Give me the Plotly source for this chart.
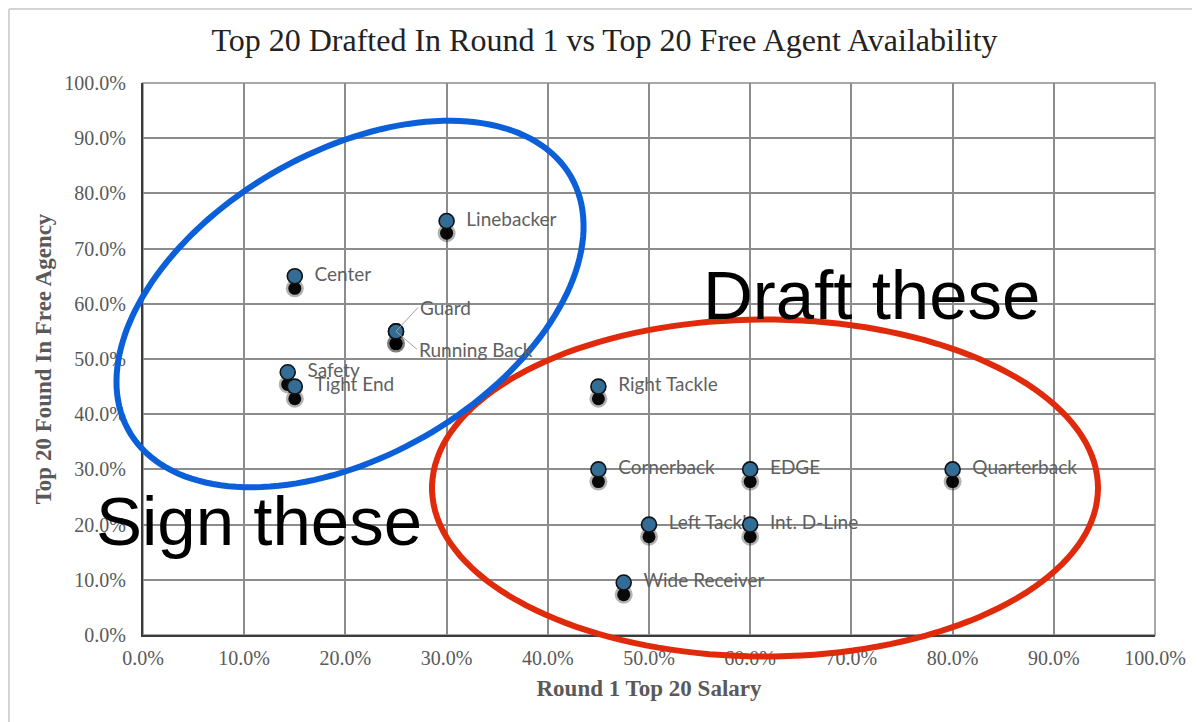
import numpy as np
import plotly.graph_objects as go

# --- Datos ---
positions = ["Linebacker", "Center", "Guard", "Running Back", "Safety", "Tight End",
             "Right Tackle", "Cornerback", "EDGE", "Quarterback", "Left Tackle",
             "Int. D-Line", "Wide Receiver"]
salary_share = [0.30, 0.15, 0.25, 0.25, 0.143, 0.15, 0.45, 0.45, 0.60, 0.80, 0.50, 0.60, 0.475]
fa_share = [0.75, 0.65, 0.55, 0.55, 0.476, 0.45, 0.45, 0.30, 0.30, 0.30, 0.20, 0.20, 0.095]
tick_vals = [0.0, 0.1, 0.2, 0.3, 0.4, 0.5, 0.6, 0.7, 0.8, 0.9, 1.0]

# --- Layout ---
# la pagina html deja 8px de margen en el body, asi que la figura se compensa
OFF = 8
PX0, PX1, PY0, PY1 = 143, 1155, 83, 635   # area de trazado en la imagen final
W, H = 1200 - OFF, 722 - OFF
L, T = PX0 - OFF, PY0 - OFF
R, B = W - (PX1 - OFF), H - (PY1 - OFF)


def px_to_data(px, py):
    # pixeles de la imagen final -> coordenadas 0-1 del area de trazado
    return (np.asarray(px) - PX0) / (PX1 - PX0), (PY1 - np.asarray(py)) / (PY1 - PY0)


def ellipse_path(cx, cy, a, b, ang_deg, n=160):
    t = np.linspace(0, 2 * np.pi, n)
    th = np.radians(ang_deg)
    px = cx + a * np.cos(t) * np.cos(th) - b * np.sin(t) * np.sin(th)
    py = cy + a * np.cos(t) * np.sin(th) + b * np.sin(t) * np.cos(th)
    xs, ys = px_to_data(px, py)
    return "M " + " L ".join(f"{x:.4f},{y:.4f}" for x, y in zip(xs, ys)) + " Z"


serif = "Liberation Serif"
label_font = dict(family="Lato", size=19, color="#5f5f5f")
leader = {"Guard": (22, -24), "Running Back": (21, 18)}

fig = go.Figure()

# sombra de los marcadores
shadow_y = [v - 0.022 for v in fa_share]
fig.add_trace(go.Scatter(
    x=salary_share, y=shadow_y, mode="markers", hoverinfo="skip",
    marker=dict(size=18, color="black", opacity=0.3, line=dict(width=0)),
    showlegend=False))
fig.add_trace(go.Scatter(
    x=salary_share, y=shadow_y, mode="markers", hoverinfo="skip",
    marker=dict(size=13, color="black", opacity=0.95, line=dict(width=0)),
    showlegend=False))

# etiquetas (debajo de los marcadores)
fig.add_trace(go.Scatter(
    x=salary_share, y=fa_share, mode="markers+text",
    text=["" if p in leader else p for p in positions],
    textposition="middle right", textfont=label_font,
    marker=dict(size=30, opacity=0), hoverinfo="skip", showlegend=False))

# marcadores
fig.add_trace(go.Scatter(
    x=salary_share, y=fa_share, mode="markers", text=positions,
    marker=dict(size=15, color="#336C95", line=dict(color="#111111", width=1.6)),
    showlegend=False))

# etiquetas con linea guia (Guard / Running Back)
for p, xv, yv in zip(positions, salary_share, fa_share):
    if p in leader:
        ax, ay = leader[p]
        fig.add_annotation(x=xv, y=yv, text=p, showarrow=True, arrowhead=0,
                           arrowwidth=1, arrowcolor="#a0a0a0", ax=ax, ay=ay,
                           xanchor="left", standoff=0, font=label_font)

# ovalos (en coordenadas paper para que no se recorten)
fig.add_shape(type="path", xref="paper", yref="paper",
              path=ellipse_path(765, 488, 333, 168.5, 0),
              line=dict(color="#E02A0C", width=6), layer="above")
fig.add_shape(type="path", xref="paper", yref="paper",
              path=ellipse_path(350, 304, 255, 152, -30),
              line=dict(color="#0B5FD9", width=6), layer="above")

# borde del area de trazado
fig.add_shape(type="rect", xref="paper", yref="paper", x0=0, y0=0, x1=1, y1=1,
              line=dict(color="#8c8c8c", width=1.5), layer="below")

# marco de la imagen (arriba e izquierda)
fx0, fy0 = px_to_data(OFF + 1, OFF + 1)
fx1, fy1 = px_to_data(1200, 722)
fig.add_shape(type="line", xref="paper", yref="paper", x0=fx0, x1=fx1, y0=fy0, y1=fy0,
              line=dict(color="#d4d4d4", width=2))
fig.add_shape(type="line", xref="paper", yref="paper", x0=fx0, x1=fx0, y0=fy0, y1=fy1,
              line=dict(color="#d4d4d4", width=2))

# textos grandes
dx, dy = px_to_data(872, 295)
fig.add_annotation(x=dx, y=dy, xref="paper", yref="paper", text="Draft these",
                   xanchor="center", yanchor="middle", showarrow=False,
                   font=dict(family="Liberation Sans", size=69, color="black"))
sx, sy = px_to_data(259, 521)
fig.add_annotation(x=sx, y=sy, xref="paper", yref="paper", text="Sign these",
                   xanchor="center", yanchor="middle", showarrow=False,
                   font=dict(family="Liberation Sans", size=69, color="black"))

axis_common = dict(
    range=[0, 1], tickvals=tick_vals, tickformat=".1%",
    showgrid=True, gridcolor="#8c8c8c", gridwidth=1.5,
    showline=True, linecolor="#3c3c3c", linewidth=2,
    zeroline=False, ticks="",
    tickfont=dict(family=serif, size=20, color="#595959"),
)

fig.update_layout(
    width=W, height=H,
    margin=dict(l=L, r=R, t=T, b=B),
    paper_bgcolor="white", plot_bgcolor="white",
    title=dict(text="Top 20 Drafted In Round 1 vs Top 20 Free Agent Availability",
               x=(604.5 - OFF) / W, xref="container", xanchor="center",
               y=1 - (40 - OFF) / H, yref="container", yanchor="middle",
               font=dict(family=serif, size=32, color="#222222")),
    xaxis=dict(axis_common, ticklabelstandoff=4,
               title=dict(text="<b>Round 1 Top 20 Salary</b>", standoff=12,
                          font=dict(family=serif, size=23, color="#595959"))),
    yaxis=dict(axis_common, ticklabelstandoff=11,
               title=dict(text="<b>Top 20 Found In Free Agency</b>", standoff=6,
                          font=dict(family=serif, size=23, color="#595959"))),
)

fig.write_html("out.html")
